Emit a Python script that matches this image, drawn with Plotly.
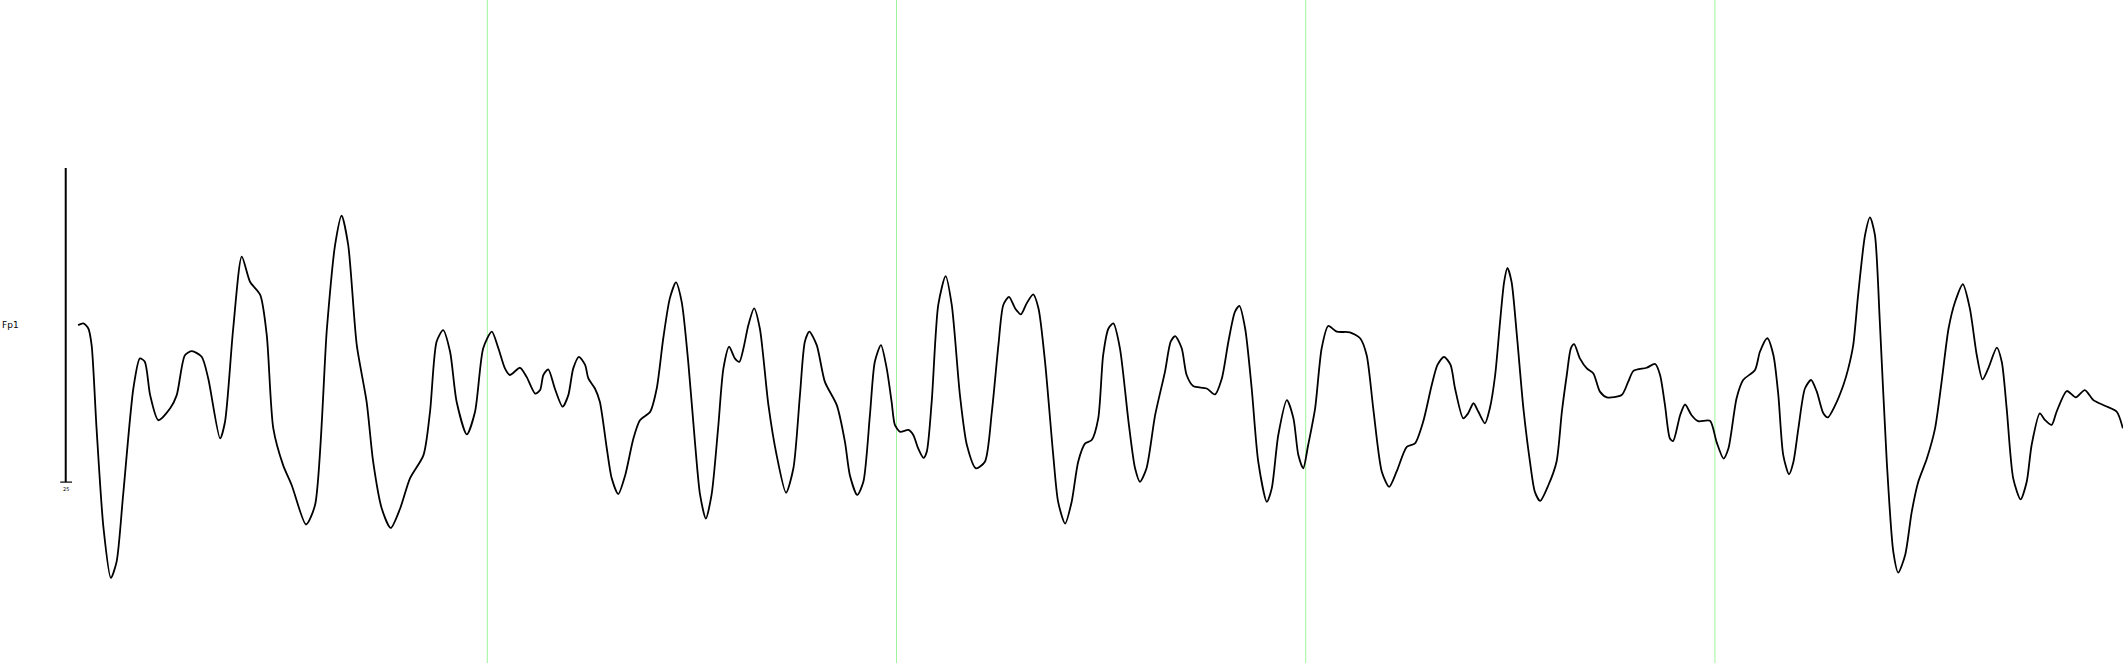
import plotly.graph_objects as go

# EEG channel Fp1, 5 s page, amplitude in microvolts
channel_label = "Fp1"
time_s = [
    0.000, 0.013, 0.025, 0.033, 0.045, 0.062, 0.080, 0.094, 0.110, 0.135,
    0.151, 0.163, 0.176, 0.196, 0.225, 0.241, 0.261, 0.278, 0.302, 0.318,
    0.347, 0.359, 0.379, 0.400, 0.420, 0.445, 0.461, 0.477, 0.501, 0.522,
    0.557, 0.579, 0.608, 0.628, 0.644, 0.660, 0.681, 0.705, 0.721, 0.742,
    0.764, 0.787, 0.811, 0.844, 0.860, 0.876, 0.892, 0.909, 0.925, 0.950,
    0.970, 0.990,
    1.011, 1.027, 1.043, 1.055, 1.080, 1.096, 1.117, 1.129, 1.137, 1.149,
    1.165, 1.184, 1.198, 1.210, 1.224, 1.239, 1.247, 1.263, 1.275, 1.292,
    1.304, 1.320, 1.337, 1.357, 1.373, 1.398, 1.414, 1.430, 1.446, 1.461,
    1.475, 1.491, 1.508, 1.520, 1.534, 1.548, 1.564, 1.577, 1.591, 1.605,
    1.616, 1.626, 1.638, 1.652, 1.666, 1.687, 1.707, 1.730, 1.748, 1.764,
    1.776, 1.787, 1.805, 1.825, 1.854, 1.874, 1.886, 1.904, 1.919, 1.935,
    1.947, 1.962, 1.976, 1.988, 1.996,
    2.009, 2.029, 2.041, 2.053, 2.066, 2.074, 2.086, 2.102, 2.120, 2.135,
    2.155, 2.172, 2.194, 2.216, 2.233, 2.249, 2.261, 2.275, 2.290, 2.304,
    2.318, 2.334, 2.347, 2.363, 2.383, 2.395, 2.412, 2.428, 2.444, 2.461,
    2.477, 2.493, 2.505, 2.518, 2.530, 2.546, 2.567, 2.583, 2.595, 2.611,
    2.632, 2.656, 2.670, 2.681, 2.697, 2.709, 2.725, 2.758, 2.778, 2.795,
    2.811, 2.827, 2.838, 2.852, 2.868, 2.884, 2.905, 2.917, 2.933, 2.954,
    2.970, 2.982, 2.994,
    3.006, 3.023, 3.039, 3.055, 3.076, 3.108, 3.133, 3.149, 3.165, 3.186,
    3.204, 3.222, 3.247, 3.267, 3.287, 3.308, 3.322, 3.338, 3.354, 3.365,
    3.385, 3.397, 3.410, 3.422, 3.438, 3.450, 3.463, 3.475, 3.485, 3.493,
    3.503, 3.516, 3.532, 3.548, 3.560, 3.573, 3.593, 3.613, 3.626, 3.638,
    3.648, 3.656, 3.670, 3.687, 3.703, 3.719, 3.736, 3.772, 3.788, 3.801,
    3.833, 3.854, 3.866, 3.878, 3.890, 3.898, 3.915, 3.927, 3.943, 3.959,
    3.988,
    4.004, 4.021, 4.033, 4.053, 4.069, 4.098, 4.110, 4.128, 4.143, 4.155,
    4.167, 4.181, 4.192, 4.204, 4.220, 4.235, 4.249, 4.265, 4.276, 4.294,
    4.314, 4.326, 4.338, 4.350, 4.367, 4.379, 4.391, 4.403, 4.420, 4.436,
    4.448, 4.465, 4.481, 4.497, 4.518, 4.538, 4.554, 4.571, 4.587, 4.606,
    4.623, 4.640, 4.654, 4.668, 4.689, 4.701, 4.713, 4.729, 4.747, 4.762,
    4.774, 4.794, 4.807, 4.823, 4.835, 4.860, 4.882, 4.904, 4.925, 4.953,
    4.982, 4.997,
]
amplitude_uv = [
    0.0, 0.5, -1.1, -6.4, -32.8, -64.6, -80.5, -75.4, -54.1, -20.2,
    -10.6, -11.7, -22.3, -30.3, -26.5, -22.3, -9.6, -8.3, -10.1, -17.0,
    -36.1, -30.8, -1.1, 21.8, 13.8, 9.6, -3.2, -32.9, -44.6, -51.0,
    -63.5, -57.3, -1.1, 25.5, 34.8, 25.5, -6.4, -24.4, -43.5, -58.4,
    -64.6, -58.4, -48.8, -41.4, -27.6, -5.3, -1.6, -8.5, -24.4, -34.8,
    -27.6, -7.4,
    -2.1, -7.4, -13.8, -15.9, -13.6, -16.5, -21.8, -20.7, -15.9, -14.1,
    -20.2, -26.0, -22.3, -13.8, -10.1, -12.7, -17.0, -20.2, -24.4, -39.3,
    -48.8, -53.8, -47.8, -36.1, -30.3, -27.6, -20.2, -4.2, 8.5, 13.6,
    7.4, -11.7, -38.2, -54.1, -61.6, -54.1, -32.9, -13.8, -6.9, -10.6,
    -11.7, -7.4, 0.0, 5.3, -1.1, -25.5, -41.4, -53.4, -45.6, -22.3,
    -5.3, -2.1, -6.4, -18.1, -25.5, -37.2, -47.8, -54.1, -49.9, -28.7,
    -11.7, -6.4, -13.8, -24.4, -31.8,
    -34.0, -33.4, -35.0, -39.3, -42.3, -40.3, -24.4, 6.4, 15.6, 6.4,
    -22.3, -38.2, -45.6, -43.5, -27.6, -6.4, 6.4, 9.0, 5.3, 3.4,
    6.9, 9.8, 5.3, -11.7, -41.4, -56.3, -63.2, -56.3, -43.5, -37.7,
    -36.6, -29.7, -9.6, -1.1, 0.5, -7.4, -30.8, -45.6, -49.9, -45.6,
    -28.7, -14.9, -5.3, -3.5, -7.4, -15.9, -19.4, -20.2, -22.1, -17.0,
    -5.3, 4.2, 6.1, -1.1, -20.2, -43.5, -56.3, -52.0, -35.0, -23.9,
    -29.7, -41.4, -45.6,
    -38.2, -26.5, -7.4, -0.3, -2.1, -2.3, -4.2, -9.6, -26.5, -46.7,
    -51.5, -46.7, -38.8, -37.7, -30.8, -19.1, -12.7, -10.1, -12.7, -20.2,
    -29.7, -28.1, -24.9, -27.6, -31.3, -26.5, -15.9, 1.1, 13.8, 18.2,
    13.8, -3.2, -26.5, -43.5, -53.1, -56.0, -51.0, -43.5, -27.6, -15.9,
    -7.4, -6.1, -10.6, -13.8, -15.4, -21.2, -23.0, -22.3, -18.1, -14.6,
    -13.6, -12.4, -15.9, -25.5, -36.1, -36.9, -28.7, -25.3, -28.7, -30.6,
    -30.5,
    -37.2, -42.5, -39.3, -23.3, -17.5, -14.3, -8.5, -4.2, -9.6, -22.3,
    -41.4, -47.5, -43.5, -32.9, -20.2, -17.5, -21.2, -28.1, -29.4, -25.5,
    -19.1, -13.8, -6.4, 9.6, 28.7, 34.3, 28.7, 1.1, -43.5, -72.2,
    -78.8, -73.2, -59.5, -49.9, -42.5, -32.9, -18.1, -1.1, 7.4, 13.0,
    5.3, -9.6, -17.3, -13.8, -7.2, -11.7, -26.5, -48.8, -55.5, -49.9,
    -38.2, -28.1, -30.3, -31.8, -27.6, -21.0, -23.0, -20.7, -23.9, -25.7,
    -27.6, -32.9,
]

second_marks = [1, 2, 3, 4]          # one-second grid lines
scale_bar_uv = 50                    # calibration bar: +/- 50 uV
scale_bar_label = "25"

# geometry of the page (seconds and microvolts)
t_min, t_max = -0.1909, 4.9973
v_min, v_max = -107.6, 103.5
bar_t = -0.0303

fig = go.Figure()

fig.add_trace(go.Scatter(
    x=time_s, y=amplitude_uv, mode="lines",
    line=dict(color="black", width=1.8, shape="spline", smoothing=0.7),
    hoverinfo="skip", showlegend=False,
))

# calibration bar
fig.add_trace(go.Scatter(
    x=[bar_t, bar_t], y=[scale_bar_uv, -scale_bar_uv], mode="lines",
    line=dict(color="black", width=2), hoverinfo="skip", showlegend=False,
))
fig.add_trace(go.Scatter(
    x=[bar_t - 0.0135, bar_t + 0.0155], y=[-scale_bar_uv, -scale_bar_uv],
    mode="lines", line=dict(color="black", width=1.2),
    hoverinfo="skip", showlegend=False,
))

shapes = []
for s in second_marks:
    shapes.append(dict(
        type="line", xref="x", yref="paper", x0=s, x1=s, y0=0, y1=1,
        line=dict(color="#9cf59c", width=1), layer="below",
    ))

annotations = [
    dict(x=t_min, y=0, xref="x", yref="y", text=channel_label,
         showarrow=False, xanchor="left", yanchor="middle",
         font=dict(family="DejaVu Sans", size=9, color="black")),
    dict(x=bar_t, y=-scale_bar_uv - 0.6, xref="x", yref="y",
         text=scale_bar_label, showarrow=False, xanchor="center",
         yanchor="top", font=dict(family="DejaVu Sans", size=5, color="black")),
]

fig.update_layout(
    width=2123, height=663,
    margin=dict(l=0, r=0, t=0, b=0, pad=0),
    paper_bgcolor="white", plot_bgcolor="white",
    xaxis=dict(range=[t_min, t_max], visible=False, showgrid=False,
               zeroline=False, fixedrange=True),
    yaxis=dict(range=[v_min, v_max], visible=False, showgrid=False,
               zeroline=False, fixedrange=True),
    shapes=shapes, annotations=annotations,
    showlegend=False,
)

fig.write_html(
    "out.html",
    config={"displayModeBar": False},
    post_script="document.body.style.margin='0';document.body.style.overflow='hidden';",
)
